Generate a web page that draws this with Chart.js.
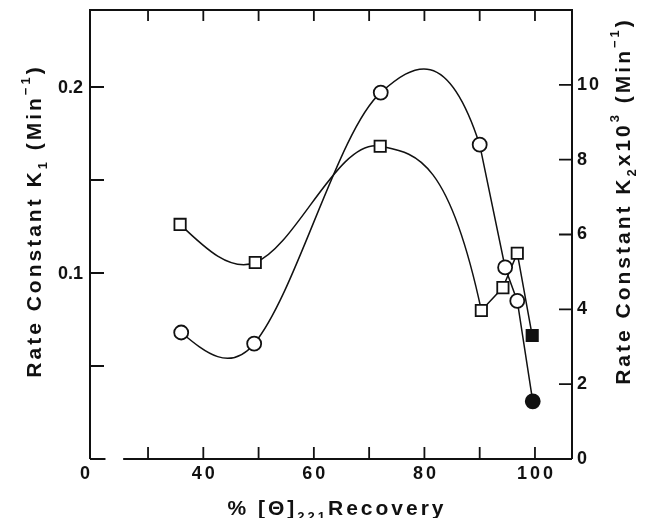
<!DOCTYPE html>
<html>
<head>
<meta charset="utf-8">
<script src="https://cdn.jsdelivr.net/npm/chart.js@4.4.1/dist/chart.umd.min.js"></script>
<style>
  html, body { margin: 0; padding: 0; background: #fff; }
  #wrap { width: 646px; height: 518px; position: relative; }
</style>
</head>
<body>
<div id="wrap"><canvas id="c"></canvas></div>
<script>
// Rate constants against % recovery
const recoveryK1 = [36.0, 49.2, 72.1, 90.0, 94.6, 96.8, 99.6];
const rateK1     = [0.068, 0.062, 0.197, 0.169, 0.103, 0.085, 0.031];   // Min^-1
const recoveryK2 = [35.8, 49.4, 72.0, 90.3, 94.2, 96.8, 99.5];
const rateK2x1e3 = [6.27, 5.25, 8.36, 3.97, 4.58, 5.50, 3.30];          // Min^-1 x 10^3
// the final point of each series is plotted solid
const solidPoint = [false, false, false, false, false, false, true];

// axis ticks and labels
const xTickMarks   = [30, 40, 50, 60, 70, 80, 90, 100];
const xTickLabels  = [40, 60, 80, 100];
const xOriginLabel = '0';
const k1TickMarks  = [0.05, 0.1, 0.15, 0.2];
const k1TickLabels = [0.1, 0.2];
const k2TickMarks  = [2, 4, 6, 8, 10];
const k2TickLabels = [0, 2, 4, 6, 8, 10];

const X_MIN = 19.5, X_MAX = 106.7;
const X_BREAK = [22.3, 25.5];          // gap in the recovery axis line
const K1_MAX = 0.2414, K2_MAX = 12.0;

const FONT = '"Liberation Sans", Arial, Helvetica, sans-serif';
const INK = '#111';

// Smooth Hermite curve through the first points of a series, straight joins after.
const curveShaper = {
  id: 'curveShaper',
  beforeDatasetDraw(chart, args) {
    const meta = args.meta;
    const ds = chart.data.datasets[args.index];
    if (ds.smoothThrough === undefined) return;
    const line = meta.dataset;
    if (line.updateControlPoints) line.updateControlPoints(chart.chartArea, meta.iScale.axis);
    line._pointsUpdated = true;
    const pts = meta.data;
    const n = pts.length;
    const last = ds.smoothThrough;
    const X = pts.map(p => p.x), Y = pts.map(p => p.y);
    const s = i => (Y[i + 1] - Y[i]) / (X[i + 1] - X[i]);
    const m = new Array(n).fill(0);
    for (let i = 1; i < last; i++) m[i] = (Y[i + 1] - Y[i - 1]) / (X[i + 1] - X[i - 1]);
    m[0] = (3 * s(0) - m[1]) / 2;
    m[last] = ds.endTangentBoost * (3 * s(last - 1) - m[last - 1]) / 2;
    for (let i = 0; i < n; i++) {
      const p = pts[i];
      if (i > 0 && i <= last) {
        const h = (X[i] - X[i - 1]) / 3;
        p.cp1x = X[i] - h; p.cp1y = Y[i] - m[i] * h;
      } else { p.cp1x = X[i]; p.cp1y = Y[i]; }
      if (i < last) {
        const h = (X[i + 1] - X[i]) / 3;
        p.cp2x = X[i] + h; p.cp2y = Y[i] + m[i] * h;
      } else { p.cp2x = X[i]; p.cp2y = Y[i]; }
    }
  }
};

function drawRich(ctx, segs, cx, cy, size, spacing, angle, weight) {
  ctx.save();
  ctx.translate(cx, cy);
  ctx.rotate(angle);
  ctx.fillStyle = INK;
  ctx.textAlign = 'left';
  ctx.textBaseline = 'alphabetic';
  let total = 0;
  const parts = segs.map(sg => {
    const sz = sg.k ? Math.round(size * 0.62) : size;
    ctx.font = `${weight} ${sz}px ${FONT}`;
    ctx.letterSpacing = spacing + 'px';
    const w = ctx.measureText(sg.t).width;
    total += w;
    return { sg, sz, w };
  });
  let x = -total / 2;
  const base = size * 0.36;
  for (const p of parts) {
    ctx.font = `${weight} ${p.sz}px ${FONT}`;
    ctx.letterSpacing = spacing + 'px';
    const dy = p.sg.k === 'sub' ? size * 0.3 : p.sg.k === 'sup' ? -size * 0.5 : 0;
    ctx.fillText(p.sg.t, x, base + dy);
    x += p.w;
  }
  ctx.restore();
}

function drawLabel(ctx, text, x, y, align, size, spacing) {
  ctx.save();
  ctx.fillStyle = INK;
  ctx.font = `bold ${size}px ${FONT}`;
  ctx.letterSpacing = spacing + 'px';
  ctx.textBaseline = 'middle';
  const w = ctx.measureText(text).width - spacing;
  let left = x;
  if (align === 'center') left = x - w / 2;
  else if (align === 'right') left = x - w;
  ctx.textAlign = 'left';
  ctx.fillText(text, left, y);
  ctx.restore();
}

// Frame, inward tick marks, tick labels and axis titles
const axisDecor = {
  id: 'axisDecor',
  beforeDatasetsDraw(chart) {
    const { ctx, chartArea: a } = chart;
    const xs = chart.scales.x, k1 = chart.scales.k1, k2 = chart.scales.k2;
    ctx.save();
    ctx.strokeStyle = INK;
    ctx.lineWidth = 2;
    ctx.lineCap = 'butt';
    ctx.beginPath();
    // left, top and right edges
    ctx.moveTo(a.left, a.bottom); ctx.lineTo(a.left, a.top);
    ctx.lineTo(a.right, a.top); ctx.lineTo(a.right, a.bottom);
    // bottom edge with a break near the origin
    ctx.moveTo(a.left, a.bottom); ctx.lineTo(xs.getPixelForValue(X_BREAK[0]), a.bottom);
    ctx.moveTo(xs.getPixelForValue(X_BREAK[1]), a.bottom); ctx.lineTo(a.right, a.bottom);
    ctx.stroke();

    ctx.lineWidth = 1.8;
    ctx.beginPath();
    for (const v of xTickMarks) {
      const px = xs.getPixelForValue(v);
      ctx.moveTo(px, a.bottom); ctx.lineTo(px, a.bottom - 12);
      ctx.moveTo(px, a.top); ctx.lineTo(px, a.top + 11);
    }
    for (const v of k1TickMarks) {
      const py = k1.getPixelForValue(v);
      ctx.moveTo(a.left, py); ctx.lineTo(a.left + 14, py);
    }
    for (const v of k2TickMarks) {
      const py = k2.getPixelForValue(v);
      ctx.moveTo(a.right, py); ctx.lineTo(a.right - 13, py);
    }
    ctx.stroke();
    ctx.restore();

    // tick labels
    for (const v of xTickLabels) drawLabel(ctx, String(v), xs.getPixelForValue(v), a.bottom + 15, 'center', 18, 3);
    drawLabel(ctx, xOriginLabel, xs.getPixelForValue(X_MIN), a.bottom + 15, 'right', 18, 3);
    for (const v of k1TickLabels) drawLabel(ctx, v.toFixed(1), a.left - 7, k1.getPixelForValue(v) + 1, 'right', 18, 0);
    for (const v of k2TickLabels) drawLabel(ctx, String(v), a.right + 5, k2.getPixelForValue(v), 'left', 18, 2);

    // axis titles
    drawRich(ctx, [
      { t: 'Rate Constant K' }, { t: '1', k: 'sub' }, { t: ' (Min' }, { t: '\u22121', k: 'sup' }, { t: ')' }
    ], 33, 221, 21, 3, -Math.PI / 2, 'bold');
    drawRich(ctx, [
      { t: 'Rate Constant K' }, { t: '2', k: 'sub' }, { t: 'x10' }, { t: '3', k: 'sup' }, { t: ' (Min' }, { t: '\u22121', k: 'sup' }, { t: ')' }
    ], 622, 201, 21, 3, -Math.PI / 2, 'bold');
    drawRich(ctx, [
      { t: '% [\u0398]' }, { t: '221', k: 'sub' }, { t: 'Recovery' }
    ], 337, 507, 21, 3, 0, 'bold');
  }
};

new Chart(document.getElementById('c'), {
  type: 'line',
  data: {
    datasets: [
      {
        label: 'K1',
        data: recoveryK1.map((x, i) => ({ x, y: rateK1[i] })),
        yAxisID: 'k1',
        borderColor: INK,
        borderWidth: 1.5,
        tension: 0.4,
        smoothThrough: 3,
        endTangentBoost: 2.5,
        pointStyle: 'circle',
        pointRadius: 7,
        pointBorderWidth: 1.8,
        pointBorderColor: INK,
        pointBackgroundColor: solidPoint.map(f => f ? INK : '#fff')
      },
      {
        label: 'K2',
        data: recoveryK2.map((x, i) => ({ x, y: rateK2x1e3[i] })),
        yAxisID: 'k2',
        borderColor: INK,
        borderWidth: 1.5,
        tension: 0.4,
        smoothThrough: 3,
        endTangentBoost: 2,
        pointStyle: 'rect',
        pointRadius: 8,
        pointBorderWidth: 1.8,
        pointBorderColor: INK,
        pointBackgroundColor: solidPoint.map(f => f ? INK : '#fff')
      }
    ]
  },
  options: {
    responsive: true,
    maintainAspectRatio: false,
    animation: false,
    layout: { padding: { left: 90, right: 74, top: 10, bottom: 59 } },
    plugins: { legend: { display: false }, tooltip: { enabled: false } },
    scales: {
      x: { type: 'linear', min: X_MIN, max: X_MAX, display: false },
      k1: { type: 'linear', position: 'left', min: 0, max: K1_MAX, display: false },
      k2: { type: 'linear', position: 'right', min: 0, max: K2_MAX, display: false }
    }
  },
  plugins: [curveShaper, axisDecor]
});
</script>
</body>
</html>
